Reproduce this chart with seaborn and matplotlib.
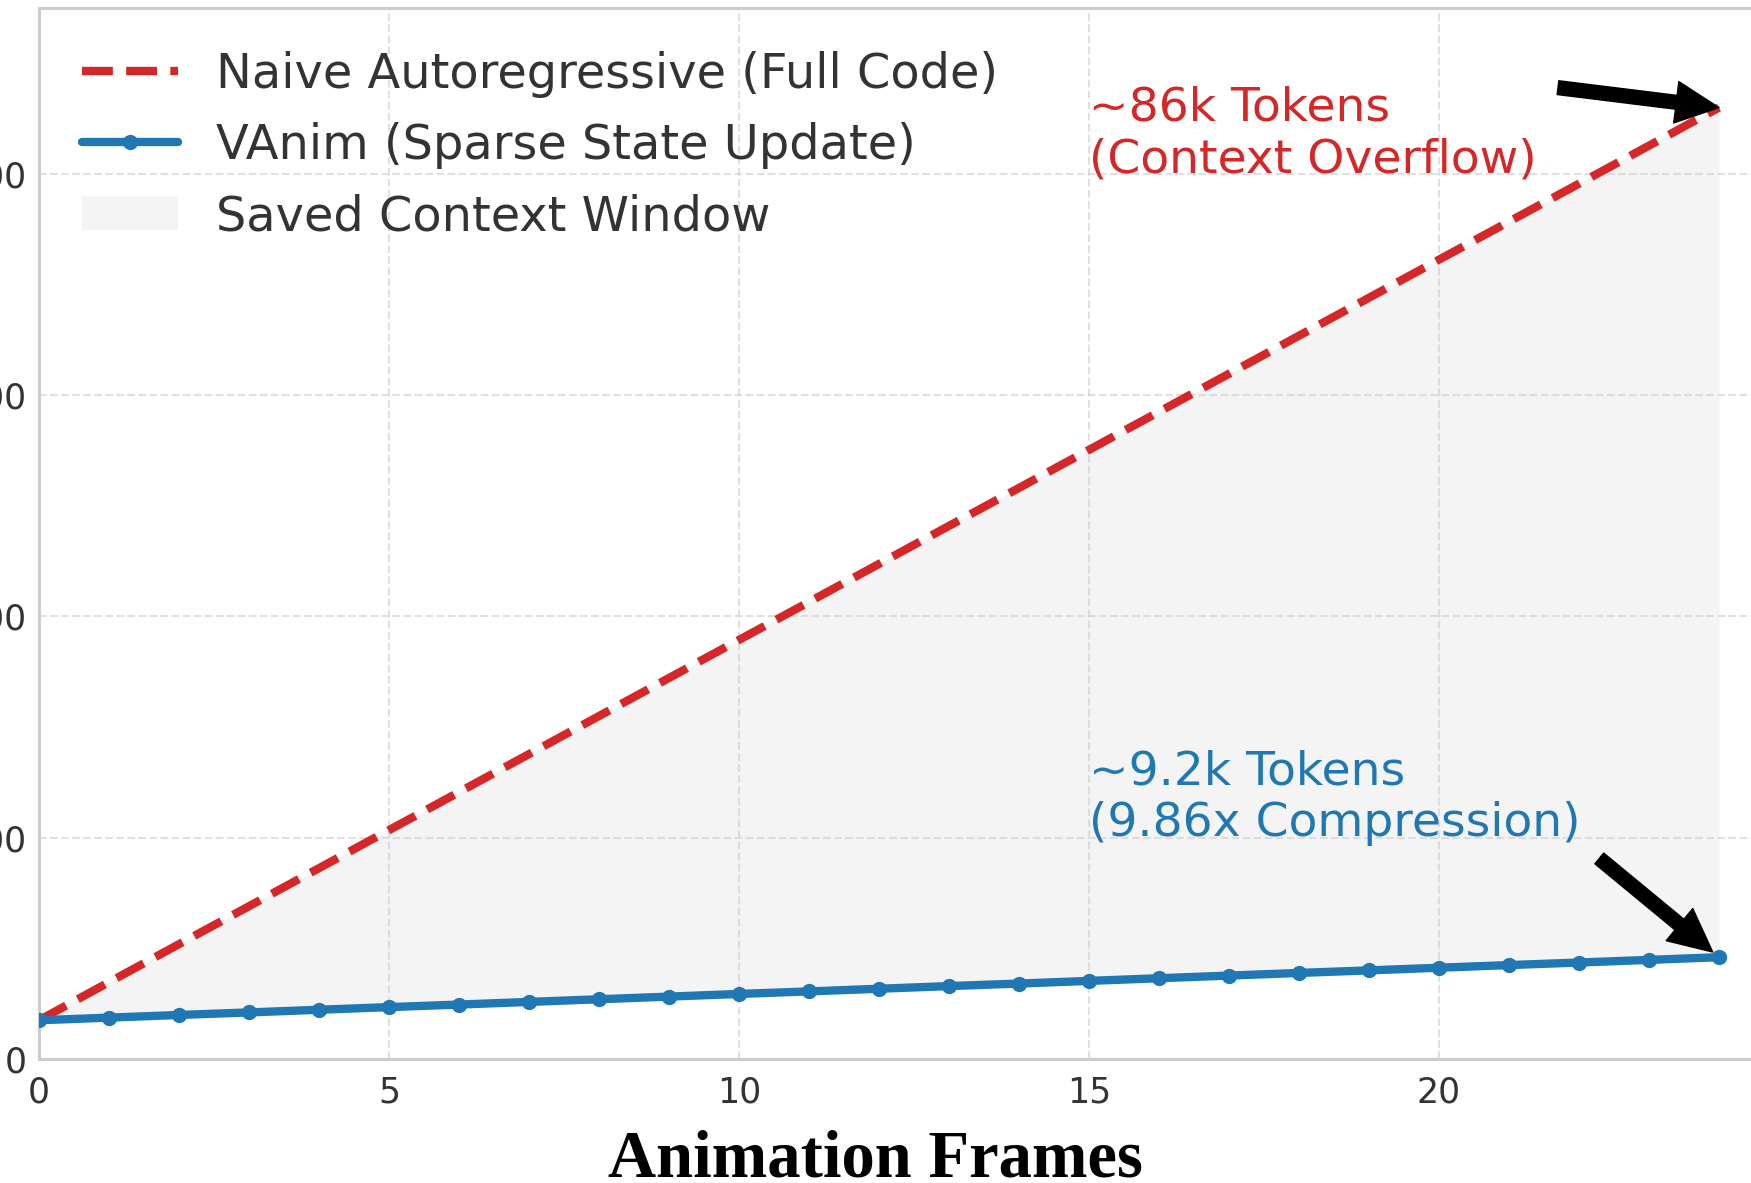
import pandas as pd
import matplotlib.pyplot as plt
import seaborn as sns

# token counts per animation frame
frames = list(range(25))
naive_tokens = [3500, 6940, 10380, 13810, 17250, 20690, 24120, 27560, 31000,
                34440, 37880, 41310, 44750, 48190, 51620, 55060, 58500, 61940,
                65380, 68810, 72250, 75690, 79120, 82560, 86000]
vanim_tokens = [3500, 3740, 3980, 4210, 4450, 4690, 4920, 5160, 5400, 5640,
                5880, 6110, 6350, 6590, 6820, 7060, 7300, 7540, 7780, 8010,
                8250, 8490, 8720, 8960, 9200]
y_ticks = [0, 20000, 40000, 60000, 80000]
x_ticks = [0, 5, 10, 15, 20]

red = "#d62728"
blue = "#1f77b4"

sns.set_theme(style="whitegrid")
plt.rcParams["font.family"] = ["DejaVu Sans"]

df = pd.DataFrame({"frame": frames, "naive": naive_tokens, "vanim": vanim_tokens})

fig = plt.figure(figsize=(17.51, 11.83), dpi=100)
ax = fig.add_axes([39 / 1751, 124 / 1183, 1750 / 1751, 1051 / 1183])

ax.fill_between(df["frame"], df["vanim"], df["naive"], color="lightgray",
                alpha=0.24, linewidth=0, label="Saved Context Window", zorder=1)
sns.lineplot(data=df, x="frame", y="naive", ax=ax, color=red, linestyle="--",
             linewidth=6, label="Naive Autoregressive (Full Code)", zorder=3)
sns.lineplot(data=df, x="frame", y="vanim", ax=ax, color=blue, marker="o",
             markersize=11, markeredgewidth=0, linewidth=6,
             label="VAnim (Sparse State Update)", zorder=4)

ax.set_xlim(0, 25)
ax.set_ylim(0, 95000)
ax.set_xticks(x_ticks)
ax.set_yticks(y_ticks)
ax.tick_params(axis="both", labelsize=25, colors="#333333")
ax.tick_params(axis="x", pad=6)
ax.tick_params(axis="y", pad=3)
ax.grid(True, linestyle="--", linewidth=1.5, alpha=0.6)
for sp in ax.spines.values():
    sp.set_color("#cccccc")
    sp.set_linewidth(2.2)

ax.set_ylabel("")
ax.set_xlabel("Animation Frames", fontsize=48, fontweight="bold",
              family="Liberation Serif", color="black")
ax.xaxis.set_label_coords(0.4777, -0.067)

# reorder legend: red, blue, fill
handles, labels = ax.get_legend_handles_labels()
order = [labels.index("Naive Autoregressive (Full Code)"),
         labels.index("VAnim (Sparse State Update)"),
         labels.index("Saved Context Window")]
leg = ax.legend([handles[i] for i in order], [labels[i] for i in order],
                loc="upper left", frameon=False, fontsize=34.5)
for t in leg.get_texts():
    t.set_color("#333333")

# annotations
ax.text(15, 88000, "~86k Tokens\n(Context Overflow)", color=red, fontsize=34,
        va="top", ha="left", linespacing=1.2)
ax.annotate("", xy=(frames[-1], naive_tokens[-1]), xytext=(21.7, 87800),
            arrowprops=dict(facecolor="black", edgecolor="black", width=10,
                            headwidth=30, headlength=31, shrink=0), zorder=6)

ax.text(15, 28000, "~9.2k Tokens\n(9.86x Compression)", color=blue, fontsize=34,
        va="top", ha="left", linespacing=1.2)
ax.annotate("", xy=(frames[-1], vanim_tokens[-1]), xytext=(22.2, 18600),
            arrowprops=dict(facecolor="black", edgecolor="black", width=10,
                            headwidth=30, headlength=31, shrink=0.05), zorder=6)

fig.savefig("out.png", dpi=100)
